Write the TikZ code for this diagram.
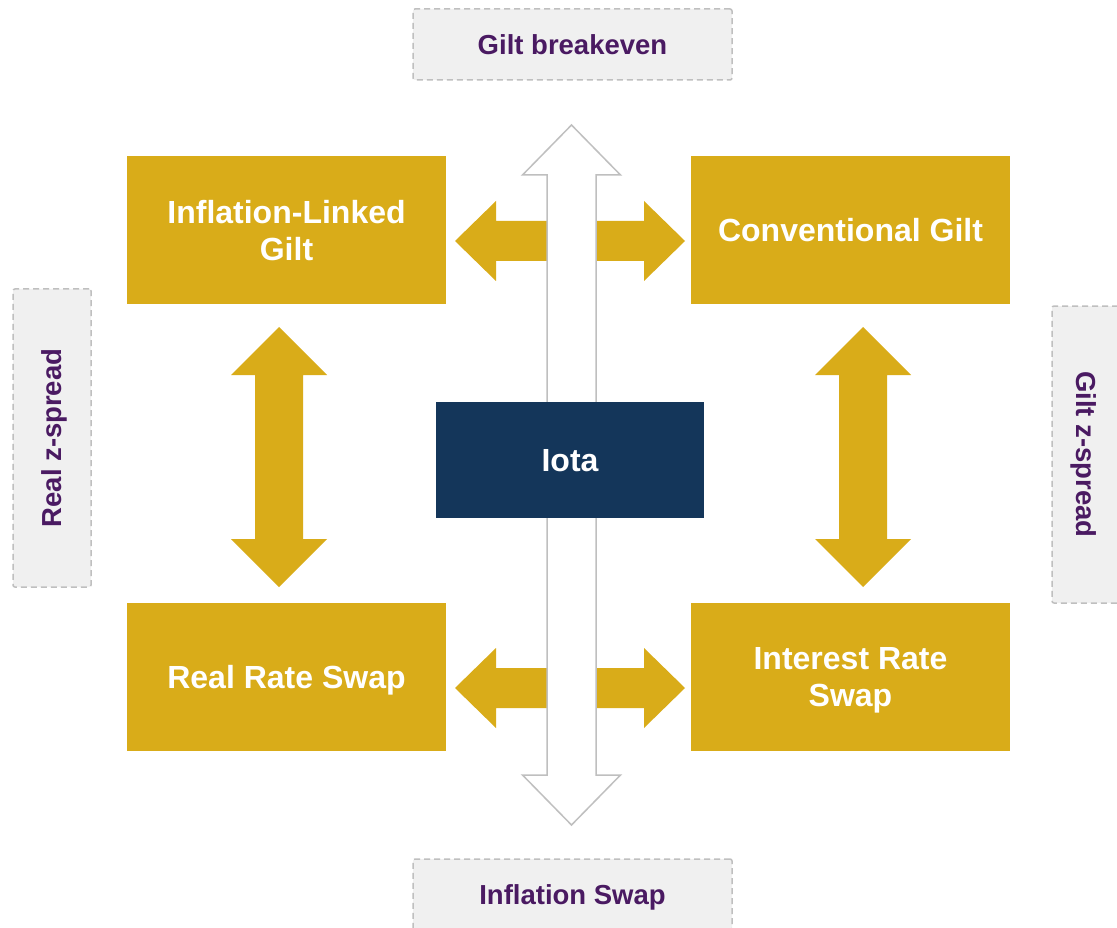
\documentclass[tikz,border=0pt]{standalone}
\usepackage{fontspec}
\setmainfont{Liberation Sans}
\definecolor{gold}{HTML}{D9AC19}
\definecolor{navy}{HTML}{14365A}
\definecolor{plum}{HTML}{4A1A62}
\definecolor{panel}{HTML}{F0F0F0}
\definecolor{rim}{HTML}{BFBFBF}
\tikzset{
  x=1pt, y=-1pt,
  goldbox/.style={fill=gold, draw=none, minimum width=319, minimum height=148, inner sep=0,
    text depth=-4pt, text=white, align=center, font=\bfseries\fontsize{32}{37}\selectfont},
  iotabox/.style={fill=navy, draw=none, minimum width=268, minimum height=116, inner sep=0,
    text depth=-4pt, text=white, font=\bfseries\fontsize{32}{37}\selectfont},
  tagbox/.style={fill=panel, draw=rim, line width=1.5, dash pattern=on 6 off 4,
    rounded corners=2, inner sep=0, text depth=-3pt, text=plum,
    font=\bfseries\fontsize{27.5}{32}\selectfont},
  tagtext/.style={text=plum, text depth=-2pt, inner sep=0, font=\bfseries\fontsize{27.5}{32}\selectfont},
  goldarrow/.style={fill=gold, draw=none},
  whitearrow/.style={fill=white, draw=rim, line width=1.5, line join=miter},
}
% horizontal two-headed block arrow: #1 left tip x, #2 right tip x, #3 centre y
\newcommand\hbiarrow[3]{%
  \path[goldarrow] (#1,#3) -- (#1+41,#3-40) -- (#1+41,#3-20) -- (#2-41,#3-20)
    -- (#2-41,#3-40) -- (#2,#3) -- (#2-41,#3+40) -- (#2-41,#3+20)
    -- (#1+41,#3+20) -- (#1+41,#3+40) -- cycle;}
% vertical two-headed block arrow: #1 centre x, #2 top tip y, #3 bottom tip y,
% #4 head length, #5 head half width, #6 shaft half width, #7 style
\newcommand\vbiarrow[7]{%
  \path[#7] (#1,#2) -- (#1+#5,#2+#4) -- (#1+#6,#2+#4) -- (#1+#6,#3-#4)
    -- (#1+#5,#3-#4) -- (#1,#3) -- (#1-#5,#3-#4) -- (#1-#6,#3-#4)
    -- (#1-#6,#2+#4) -- (#1-#5,#2+#4) -- cycle;}
\begin{document}
\begin{tikzpicture}
\clip (0,0) rectangle (1117,928);
\fill[white] (0,0) rectangle (1117,928);

% instrument boxes
\node[goldbox] (ilg) at (286.5,230) {Inflation-Linked\\Gilt};
\node[goldbox] (cg)  at (850.5,230) {Conventional Gilt};
\node[goldbox] (rrs) at (286.5,677) {Real Rate Swap};
\node[goldbox] (irs) at (850.5,677) {Interest Rate\\Swap};

% spread labels
\node[tagbox, minimum width=319, minimum height=71] (gbe) at (572.5,44.5) {Gilt breakeven};
\node[tagbox, minimum width=319, minimum height=71] (infs) at (572.5,894.5) {Inflation Swap};
\node[tagbox, minimum width=78, minimum height=298] (rzs) at (52,438) {};
\node[tagtext, rotate=90] (rzt) at (rzs.center) {Real z-spread};
\node[tagbox, minimum width=68, minimum height=297] (gzs) at (1086,454.5) {};
\node[tagtext, rotate=-90] (gzt) at (gzs.center) {Gilt z-spread};

% links between the gold boxes
\hbiarrow{455}{685}{241}
\hbiarrow{455}{685}{688}
\vbiarrow{279}{327}{587}{48}{48}{24}{goldarrow}
\vbiarrow{863}{327}{587}{48}{48}{24}{goldarrow}

% breakeven axis through the centre
\vbiarrow{571.5}{125}{825}{50}{49}{24.5}{whitearrow}

% central node
\node[iotabox] (iota) at (570,460) {Iota};
\end{tikzpicture}
\end{document}
